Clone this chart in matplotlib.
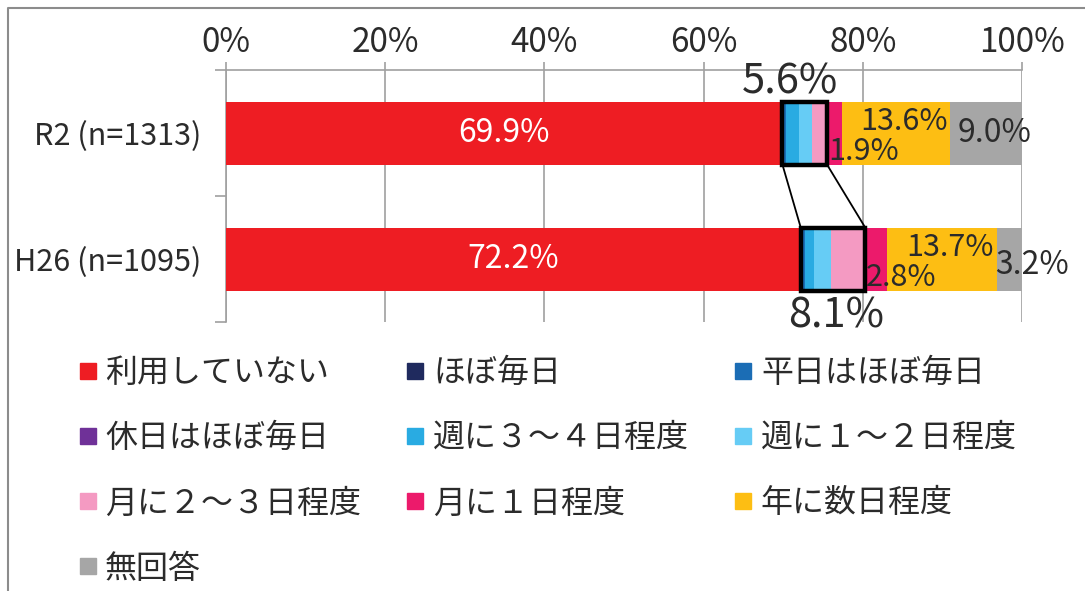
import matplotlib
matplotlib.use("Agg")
import matplotlib.pyplot as plt
from matplotlib.lines import Line2D
from matplotlib.patches import Rectangle
import numpy as np

plt.rcParams['font.family'] = ['Noto Sans CJK JP', 'DejaVu Sans']

# survey years and answer categories
groups = ['R2 (n=1313)', 'H26 (n=1095)']
answers = ['利用していない', 'ほぼ毎日', '平日はほぼ毎日', '休日はほぼ毎日',
           '週に３～４日程度', '週に１～２日程度', '月に２～３日程度',
           '月に１日程度', '年に数日程度', '無回答']
colors = ['#EE1D23', '#1F2A5E', '#1B6DB5', '#6F3198', '#29ABE2',
          '#66CCF5', '#F49AC2', '#EC1A6B', '#FDBE13', '#A6A6A6']

# share (%) per answer, one list per year
r2_vals = [69.9, 0.1, 0.3, 0.1, 1.6, 1.6, 1.9, 1.9, 13.6, 9.0]
h26_vals = [72.2, 0.2, 0.3, 0.1, 1.1, 2.1, 4.3, 2.8, 13.7, 3.2]
# combined "frequent user" share shown in the black boxes
zoom_totals = [5.6, 8.1]

data = np.array([r2_vals, h26_vals])
txt = '#2B2B2B'
grid_c = '#A0A0A0'

fig = plt.figure(figsize=(10.85, 5.91), dpi=100)
ax = fig.add_axes([226 / 1085, 1 - 322 / 591, 796 / 1085, 252 / 591])

ypos = np.arange(len(groups))
left = np.zeros(len(groups))
for k in range(len(answers)):
    ax.barh(ypos, data[:, k], left=left, height=0.5, color=colors[k],
            zorder=3, label=answers[k])
    left += data[:, k]

ax.set_xlim(0, 100)
ax.set_ylim(1.5, -0.5)
ax.xaxis.tick_top()
ax.set_xticks(np.arange(0, 101, 20))
ax.set_xticklabels([f'{v}%' for v in range(0, 101, 20)])
ax.tick_params(axis='x', direction='out', length=6, width=1.2, color=grid_c,
               labelsize=24, labelcolor=txt, pad=1)
ax.grid(axis='x', color=grid_c, linewidth=1.2, zorder=0)

ax.set_yticks(ypos)
ax.set_yticklabels(groups)
ax.set_yticks([-0.5, 0.5, 1.5], minor=True)
ax.tick_params(axis='y', which='major', length=0, labelsize=22,
               labelcolor=txt, pad=18)
ax.tick_params(axis='y', which='minor', length=8, width=1.2, color=grid_c)

for s in ['right', 'bottom']:
    ax.spines[s].set_visible(False)
for s in ['top', 'left']:
    ax.spines[s].set_color(grid_c)
    ax.spines[s].set_linewidth(1.2)

# value labels
fs = 23
for i, vals in enumerate(data):
    cum = np.cumsum(vals)
    start = cum - vals
    ax.text(start[0] + vals[0] / 2, i, f'{vals[0]:.1f}%', color='white',
            ha='center', va='center', fontsize=fs, zorder=5)
    ax.text(start[7] + 0.1, i + 0.15, f'{vals[7]:.1f}%', color=txt,
            ha='left', va='center', fontsize=22, zorder=5)
    ax.text(start[8] + vals[8] / 2 + 1.0, i - 0.09, f'{vals[8]:.1f}%',
            color=txt, ha='center', va='center', fontsize=22, zorder=5)
    ax.text(start[9] + vals[9] / 2 + (1.0 if i == 0 else 2.9),
            i + (0 if i == 0 else 0.05), f'{vals[9]:.1f}%', color=txt,
            ha='center', va='center', fontsize=fs, zorder=5, clip_on=False)

# boxes around the frequent-use segments and the lines joining them
box_edges = []
for i, vals in enumerate(data):
    x0 = vals[0]
    w = zoom_totals[i]
    ax.add_patch(Rectangle((x0, i - 0.25), w, 0.5, fill=False,
                           edgecolor='black', linewidth=3.2, zorder=6))
    box_edges.append((x0, x0 + w))
for j in range(2):
    ax.plot([box_edges[0][j], box_edges[1][j]], [0.25, 0.75], color='black',
            linewidth=1.3, zorder=6)
ax.text(box_edges[0][0] + zoom_totals[0] / 2 - 1.9, -0.24,
        f'{zoom_totals[0]:.1f}%', ha='center', va='bottom', fontsize=30,
        color=txt, zorder=7)
ax.text(box_edges[1][0] + zoom_totals[1] / 2 + 0.4, 1.29,
        f'{zoom_totals[1]:.1f}%', ha='center', va='top', fontsize=30,
        color=txt, zorder=7, clip_on=False)

# legend, filled row by row over three columns
order = [0, 3, 6, 9, 1, 4, 7, 2, 5, 8]
handles = [Line2D([], [], marker='s', linestyle='', markersize=11,
                  color=colors[k]) for k in order]
labels = [answers[k] for k in order]
fig.legend(handles, labels, ncol=3, loc='upper left',
           bbox_to_anchor=(78 / 1085, 1 - 357 / 591), frameon=False,
           fontsize=23, labelcolor=txt, handlelength=0.6, handletextpad=0.25,
           columnspacing=1.4, labelspacing=1.04, borderpad=0,
           borderaxespad=0)

# outer frame
fig.add_artist(Line2D([8 / 1085, 8 / 1085, 1.0], [0, 1 - 8 / 591, 1 - 8 / 591],
                      color='#8C8C8C', linewidth=1.5))

fig.savefig('out.png', dpi=100)
